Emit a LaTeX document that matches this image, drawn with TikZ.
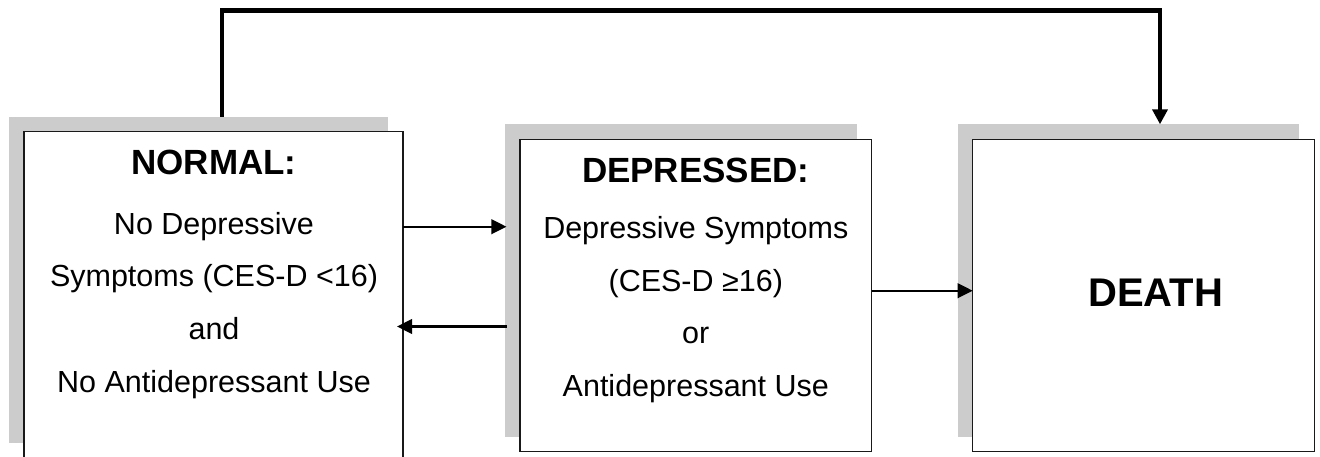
\documentclass[tikz,border=0pt]{standalone}
\usepackage{fontspec}
\setmainfont{Liberation Sans}
\usetikzlibrary{arrows.meta}
\definecolor{shadowgray}{HTML}{CCCCCC}
\tikzset{
  shadowbox/.style={fill=shadowgray, draw=none, inner sep=0pt, outer sep=0pt},
  statebox/.style={fill=white, draw=black!90, line width=1.3pt, inner sep=0pt, outer sep=0pt},
  title/.style={font=\fontsize{35}{40}\selectfont\bfseries, anchor=base, inner sep=0pt},
  bigtitle/.style={font=\fontsize{40}{46}\selectfont\bfseries, anchor=base, inner sep=0pt},
  body/.style={font=\fontsize{30.5}{36}\selectfont, anchor=base, inner sep=0pt},
  arr/.style={line width=2.3pt, -{Triangle[length=15pt,width=14.5pt]}},
  toparr/.style={line width=4.3pt, line join=miter, -{Triangle[length=15pt,width=15pt]}}
}
\begin{document}
\begin{tikzpicture}[x=1pt,y=-1pt]
\useasboundingbox (0,0) rectangle (1320,456);
% shadows
\node[shadowbox, minimum width=379pt, minimum height=326pt] (Ls) at (198.5,279.6) {};
\node[shadowbox, minimum width=351.7pt, minimum height=312.4pt] (Ms) at (680.8,280.5) {};
\node[shadowbox, minimum width=341.6pt, minimum height=312.4pt] (Ds) at (1128.5,280.5) {};
% boxes
\node[statebox, minimum width=379pt, minimum height=326pt] (L) at (213.5,294.6) {};
\node[statebox, minimum width=351.7pt, minimum height=312.4pt] (M) at (695.8,295.5) {};
\node[statebox, minimum width=341.6pt, minimum height=312.4pt] (D) at (1143.5,295.5) {};
% texts, left box
\node[title] (l0) at (214,174.5) {NORMAL:};
\node[body] (l1) at (214,234) {No Depressive};
\node[body] (l2) at (214,286.5) {Symptoms (CES-D <16)};
\node[body] (l3) at (214,339.5) {and};
\node[body] (l4) at (214,392) {No Antidepressant Use};
% texts, middle box
\node[title] (m0) at (695.8,182) {DEPRESSED:};
\node[body] (m1) at (695.8,238.5) {Depressive Symptoms};
\node[body] (m2) at (695.8,291.5) {(CES-D ≥16)};
\node[body] (m3) at (695.8,343.5) {or};
\node[body] (m4) at (695.8,396) {Antidepressant Use};
% death
\node[bigtitle] (d0) at (1155.8,306.7) {DEATH};
% connectors
\coordinate (a1) at ([yshift=67.9pt]L.east);
\draw[arr] (a1) -- ([xshift=1.5pt]a1 -| Ms.west);
\coordinate (b1) at ([yshift=-46pt]Ms.west);
\draw[arr, shorten >=-6pt] ([xshift=2pt]b1) -- (b1 -| L.east);
\coordinate (c1) at ([yshift=4.8pt]M.east);
\draw[arr] (c1) -- (c1 -| D.west);
\coordinate (t1) at ([xshift=23.2pt]Ls.north);
\coordinate (t2) at ([xshift=31.5pt]Ds.north);
\draw[toparr] (t1) -- ++(0,-106) -| (t2);
\end{tikzpicture}
\end{document}
